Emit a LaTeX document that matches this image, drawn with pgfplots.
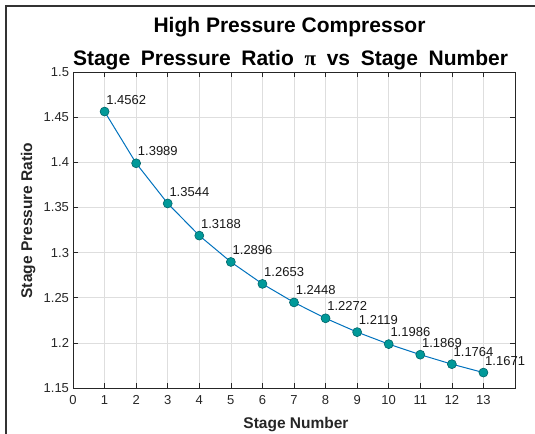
\documentclass[border=0pt]{standalone}
\usepackage{pgfplots}
\pgfplotsset{compat=1.18}
\usepackage{fontspec}
\setmainfont{Liberation Sans}
\newfontfamily\greekserif{Liberation Serif}
\definecolor{mblue}{RGB}{0,114,189}
\definecolor{mteal}{RGB}{0,153,153}
\definecolor{mtealedge}{RGB}{0,100,105}
\definecolor{axgray}{RGB}{38,38,38}
\definecolor{gridgray}{RGB}{222,222,222}

\begin{document}
\begin{tikzpicture}
  \begin{axis}[
    at={(73bp,46bp)}, anchor=south west,
    scale only axis, width=442bp, height=316bp,
    xmin=0, xmax=14, ymin=1.15, ymax=1.5,
    xtick={0,1,2,3,4,5,6,7,8,9,10,11,12,13},
    ytick={1.15,1.2,1.25,1.3,1.35,1.4,1.45,1.5},
    yticklabels={1.15,1.2,1.25,1.3,1.35,1.4,1.45,1.5},
    /pgf/number format/assume math mode=true,
    tick label style={font=\fontsize{13bp}{15bp}\selectfont, text=axgray},
    xticklabel style={yshift=-4bp},
    yticklabel style={xshift=-0.5bp},
    tick align=inside, tick pos=both,
    major tick length=5bp,
    axis line style={draw=axgray, line width=0.8bp},
    every tick/.style={draw=axgray, line width=0.6bp},
    grid=major,
    major grid style={draw=gridgray, line width=0.6bp},
    clip=false,
    nodes near coords,
    point meta=explicit symbolic,
    every node near coord/.style={anchor=south west, inner sep=0pt,
      xshift=1.5bp, yshift=7bp, font=\fontsize{13bp}{15bp}\selectfont, text=black!90},
  ]
    \addplot[mblue, line width=1bp, mark=*, mark size=4.5bp,
      mark options={fill=mteal, draw=mtealedge, line width=0.6bp}]
      coordinates {
        (1,1.4562) [1.4562]
        (2,1.3989) [1.3989]
        (3,1.3544) [1.3544]
        (4,1.3188) [1.3188]
        (5,1.2896) [1.2896]
        (6,1.2653) [1.2653]
        (7,1.2448) [1.2448]
        (8,1.2272) [1.2272]
        (9,1.2119) [1.2119]
        (10,1.1986) [1.1986]
        (11,1.1869) [1.1869]
        (12,1.1764) [1.1764]
        (13,1.1671) [1.1671]
      };
  \end{axis}
  % titles and axis labels
  \node[anchor=base, font=\fontsize{21bp}{25bp}\selectfont\bfseries]
    at (289.5bp,401bp) {High Pressure Compressor};
  \node[anchor=base, font=\fontsize{21bp}{25bp}\selectfont\bfseries, inner sep=0pt]
    at (290.5bp,368bp) {\makebox[435bp][s]{Stage Pressure Ratio {\greekserif\bfseries π} vs Stage Number}};
  \node[anchor=base, font=\fontsize{15.5bp}{18bp}\selectfont\bfseries, text=axgray]
    at (296bp,6bp) {Stage Number};
  \node[anchor=base, rotate=90, font=\fontsize{15.5bp}{18bp}\selectfont\bfseries, text=axgray]
    at (32bp,213.5bp) {Stage Pressure Ratio};
  % window frame
  \draw[line width=1.2bp, draw=black!80] (6bp,0bp) -- (6bp,428bp) -- (535bp,428bp);
  \pgfresetboundingbox
  \useasboundingbox (0bp,0bp) rectangle (535bp,434bp);
\end{tikzpicture}
\end{document}
